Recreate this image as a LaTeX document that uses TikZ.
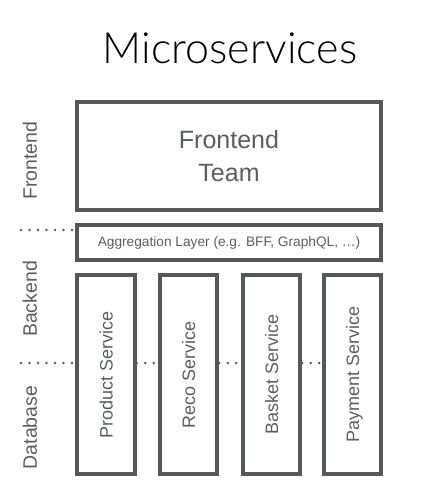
\documentclass[tikz,border=0pt]{standalone}
\usepackage{fontspec}
\setmainfont{Liberation Sans}
\newfontfamily\titlefont{Lato Light}
\definecolor{boxc}{HTML}{54575C}
\definecolor{txtc}{HTML}{5A5E63}
\begin{document}
\begin{tikzpicture}[x=1pt,y=-1pt,
  box/.style={draw=boxc, line width=4pt, inner sep=0pt, text=txtc},
  svc/.style={box, rotate=90, minimum width=199pt, minimum height=57.5pt,
    font=\fontsize{18}{21}\selectfont, text depth=0pt},
  dotline/.style={draw=boxc, line width=2.7pt, dash pattern=on 0pt off 8.5pt, line cap=round},
  side/.style={rotate=90, text=txtc, font=\fontsize{19.5}{22}\selectfont, anchor=base, inner sep=0pt}]
\useasboundingbox (0,0) rectangle (436,483);
\node[font=\titlefont\fontsize{43}{48}\selectfont, anchor=base, inner sep=0pt] (title) at (230,63) {Microservices};
\node[box, minimum width=304pt, minimum height=108pt, align=center,
  font=\fontsize{25}{33}\selectfont] (fe) at (229,156) {Frontend\\Team};
\node[box, minimum width=304pt, minimum height=35pt,
  font=\fontsize{13.7}{16}\selectfont] (agg) at (229,242.5) {Aggregation Layer (e.g. BFF, GraphQL, \ldots)};
\node[svc] (prod) at (106,374.5) {Product Service};
\node[svc] (reco) at (188.5,374.5) {Reco Service};
\node[svc] (bask) at (271.5,374.5) {Basket Service};
\node[svc] (pay) at (352.5,374.5) {Payment Service};
\node[side] (lf) at (37,160.5) {Frontend};
\node[side] (lb) at (37,299) {Backend};
\node[side] (ld) at (37,427.5) {Database};
\coordinate (d1) at (21,230);
\coordinate (d2) at (21,363);
\draw[dotline] (d1) -- (d1 -| agg.west);
\draw[dotline] (d2) -- (d2 -| prod.north);
\draw[dotline] (prod.south |- d2) -- (reco.north |- d2);
\draw[dotline] (reco.south |- d2) -- (bask.north |- d2);
\draw[dotline] (bask.south |- d2) -- (pay.north |- d2);
\end{tikzpicture}
\end{document}
